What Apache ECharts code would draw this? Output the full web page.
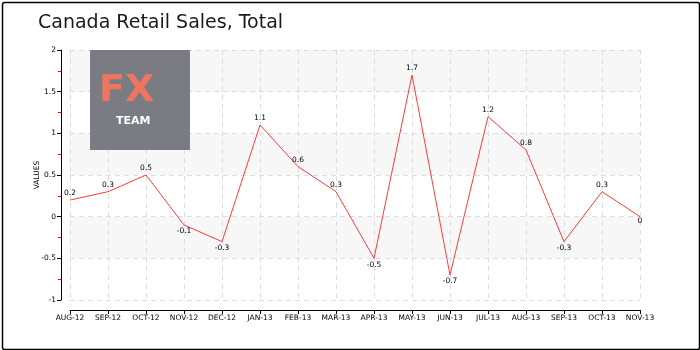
<!DOCTYPE html>
<html><head><meta charset="utf-8">
<script src="https://cdn.jsdelivr.net/npm/echarts@6/dist/echarts.min.js"></script>
<style>html,body{margin:0;padding:0;background:#fff}#c{width:700px;height:350px}</style>
</head><body><div id="c"></div>
<script>
var categories = ['AUG-12','SEP-12','OCT-12','NOV-12','DEC-12','JAN-13','FEB-13','MAR-13','APR-13','MAY-13','JUN-13','JUL-13','AUG-13','SEP-13','OCT-13','NOV-13'];
var values = [0.2, 0.3, 0.5, -0.1, -0.3, 1.1, 0.6, 0.3, -0.5, 1.7, -0.7, 1.2, 0.8, -0.3, 0.3, 0];
var titleText = 'Canada Retail Sales, Total';
var yName = 'VALUES';

var chart = echarts.init(document.getElementById('c'), null, {renderer: 'canvas'});
var seriesData = values.map(function (v) {
  return {
    value: v,
    label: {position: v < 0 ? 'bottom' : (v === 0 ? 'bottom' : 'top'), distance: v === 0 ? 0 : 2}
  };
});
chart.setOption({
  animation: false,
  title: {
    text: titleText, left: 33, top: 9,
    textStyle: {fontFamily: 'DejaVu Sans', fontWeight: 'normal', fontSize: 19, color: '#1a1a1a'}
  },
  grid: {left: 70, right: 60, top: 50, bottom: 50},
  xAxis: {
    type: 'category', data: categories, boundaryGap: false, offset: 10,
    axisLine: {onZero: false, lineStyle: {color: '#000', width: 1}},
    axisTick: {show: true, length: 4, lineStyle: {color: '#000'}},
    axisLabel: {color: '#000', fontSize: 7.5, fontFamily: 'DejaVu Sans', margin: 4, interval: 0},
    splitLine: {show: true, lineStyle: {color: '#dddddd', type: [5, 4]}}
  },
  yAxis: {
    type: 'value', min: -1, max: 2, interval: 0.5, offset: 9,
    name: yName, nameLocation: 'middle', nameGap: 20, nameMoveOverlap: false,
    nameTextStyle: {fontSize: 7.5, color: '#000', fontFamily: 'DejaVu Sans'},
    axisLine: {show: true, onZero: false, lineStyle: {color: '#000', width: 1}},
    axisTick: {show: true, length: 4, lineStyle: {color: '#000'}},
    minorTick: {show: true, splitNumber: 2, length: 3, lineStyle: {color: '#ff0000', width: 1}},
    axisLabel: {color: '#000', fontSize: 7.5, fontFamily: 'DejaVu Sans', margin: 5},
    splitLine: {show: true, lineStyle: {color: '#dddddd', type: [5, 4]}},
    splitArea: {show: true, areaStyle: {color: ['#ffffff', '#f7f7f7']}}
  },
  series: [{
    type: 'line', data: seriesData,
    symbol: 'circle', symbolSize: 1, showSymbol: true,
    itemStyle: {color: 'rgba(0,0,0,0)'},
    lineStyle: {color: '#ff3b3b', width: 1},
    label: {show: true, color: '#000', fontSize: 7.5, fontFamily: 'DejaVu Sans'}
  }],
  graphic: [
    {type: 'rect', left: 0, top: 0, shape: {x: 0.75, y: 0.75, width: 697, height: 347, r: 2},
     style: {fill: 'none', stroke: '#000', lineWidth: 1.5}, z: 100},
    {type: 'rect', left: 90, top: 50, shape: {width: 100, height: 100},
     style: {fill: '#7b7c83'}, z: 50},
    {type: 'text', left: 99, top: 72, z: 51,
     style: {text: 'FX', fill: '#f07560', fontSize: 38, fontFamily: 'DejaVu Sans', fontWeight: 'bold'}},
    {type: 'text', left: 116, top: 116, z: 51,
     style: {text: 'TEAM', fill: '#ffffff', fontSize: 11, fontFamily: 'DejaVu Sans', fontWeight: 'bold'}}
  ]
});
</script></body></html>
